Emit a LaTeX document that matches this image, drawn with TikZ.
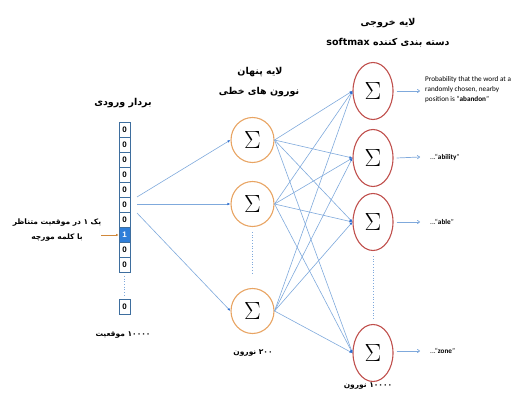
\documentclass[tikz,border=0pt]{standalone}
\usepackage{fontspec}
\setmainfont{Liberation Sans}
\newfontfamily\fa[Script=Arabic]{DejaVu Sans}
\newfontfamily\en{Carlito}
\TeXXeTstate=1
\usetikzlibrary{arrows.meta,shapes.geometric}
\definecolor{cellc}{HTML}{3E6E9E}
\definecolor{onec}{HTML}{2F7ED8}
\definecolor{hidc}{HTML}{E8A463}
\definecolor{outc}{HTML}{C0504D}
\definecolor{connc}{HTML}{7FA9DC}
\definecolor{tipc}{HTML}{2E6FD0}
\definecolor{orc}{HTML}{D0883A}
\begin{document}
\begin{tikzpicture}[x=1pt,y=-1pt,
  cell/.style={draw=cellc, line width=0.7pt, minimum width=11pt, minimum height=15pt, inner sep=0pt, font=\fontsize{8}{9}\selectfont\bfseries},
  onecell/.style={cell, fill=onec, text=white},
  hid/.style={ellipse, draw=hidc, line width=1.1pt, minimum width=43pt, minimum height=45pt, inner sep=0pt, font=\fontsize{24}{24}\selectfont},
  outn/.style={ellipse, draw=outc, line width=1.1pt, minimum width=40pt, minimum height=57pt, inner sep=0pt, font=\fontsize{24}{24}\selectfont},
  conn/.style={draw=connc, line width=0.6pt, -{Latex[length=3pt,width=2.5pt,color=tipc]}},
  rarr/.style={draw=connc, line width=0.7pt, -{To[length=3pt,width=4pt]}},
  dotl/.style={draw=connc, line width=0.7pt, dotted},
  title/.style={font=\fa\bfseries\fontsize{9.5}{11}\selectfont, inner sep=0pt},
  small/.style={font=\fa\bfseries\fontsize{7.5}{9}\selectfont, inner sep=0pt},
  entxt/.style={font=\en\fontsize{7.2}{10}\selectfont, anchor=west, align=left, inner sep=0pt}
]
\useasboundingbox (0,0) rectangle (518,393);
% input vector
\foreach \i in {1,...,7} {\node[cell] (c\i) at (124.5,{130+15*(\i-1)}) {0};}
\node[onecell] (c8) at (124.5,235) {1};
\node[cell] (c9) at (124.5,250) {0};
\node[cell] (c10) at (124.5,265) {0};
\node[cell] (c11) at (124.5,307) {0};
\draw[dotl] ([yshift=-3pt]c10.south) -- ([yshift=3pt]c11.north);
\node[title] (tin) at (123,103) {\beginR بردار ورودی\endR};
\node[small] (bin) at (123,335) {\beginR\beginL ۱۰۰۰۰\endL{} موقعیت\endR};
\node[small] (l1) at (57,223) {\beginR یک ۱ در موقعیت متناظر\endR};
\node[small] (l2) at (57,238) {\beginR با کلمه مورچه\endR};
\coordinate (oa) at (101,235);
\draw[draw=orc, line width=0.9pt, -{Latex[length=2.5pt,width=2.5pt]}] (oa) -- (c8.west);
% hidden layer
\node[hid] (h1) at (252.5,140) {$\Sigma$};
\node[hid] (h2) at (252.5,204) {$\Sigma$};
\node[hid] (h3) at (252.5,311) {$\Sigma$};
\draw[dotl] ([yshift=-5pt]h2.south) -- ([yshift=14pt]h3.north);
\node[title] (th1) at (260,72) {\beginR لایه پنهان\endR};
\node[title] (th2) at (259,92) {\beginR نورون های خطی\endR};
\node[small] (bh) at (253,353) {\beginR\beginL ۲۰۰\endL{} نورون\endR};
\coordinate (a1) at (137,197);
\coordinate (a2) at (137,204);
\coordinate (a3) at (137,213);
\draw[conn] (a1) -- (h1.west);
\draw[conn] (a2) -- (h2.west);
\draw[conn] (a3) -- (h3.west);
% output layer
\node[outn] (o1) at (373,91) {$\Sigma$};
\node[outn] (o2) at (373,158) {$\Sigma$};
\node[outn] (o3) at (373,222) {$\Sigma$};
\node[outn] (o4) at (373,353) {$\Sigma$};
\draw[dotl] ([yshift=-5pt]o3.south) -- ([yshift=5pt]o4.north);
\node[title] (to1) at (388,23) {\beginR لایه خروجی\endR};
\node[title] (to2) at (388,43) {\beginR دسته بندی کننده \beginL softmax\endL\endR};
\node[small] (bo) at (368,386) {\beginR\beginL ۱۰۰۰۰\endL{} نورون\endR};
\foreach \h in {1,2,3} {\foreach \o in {1,2,3,4} {\draw[conn] (h\h.east) -- (o\o.west);}}
% outputs
\node[entxt] (p1) at (425,90) {Probability that the word at a\\randomly chosen, nearby\\position is “\textbf{abandon}”};
\node[entxt] (p2) at (430,157) {...“\textbf{ability}”};
\node[entxt] (p3) at (430,222) {...“\textbf{able}”};
\node[entxt] (p4) at (430,351) {...“\textbf{zone}”};
\coordinate (r1) at (420,91);
\coordinate (r2) at (420,157);
\coordinate (r3) at (420,222);
\coordinate (r4) at (420,351);
\draw[rarr] ([xshift=3pt]o1.east) -- (r1);
\draw[rarr] ([xshift=3pt]o2.east) -- (r2);
\draw[rarr] ([xshift=3pt]o3.east) -- (r3);
\draw[rarr] ([xshift=3pt,yshift=2pt]o4.east) -- (r4);
\end{tikzpicture}
\end{document}
